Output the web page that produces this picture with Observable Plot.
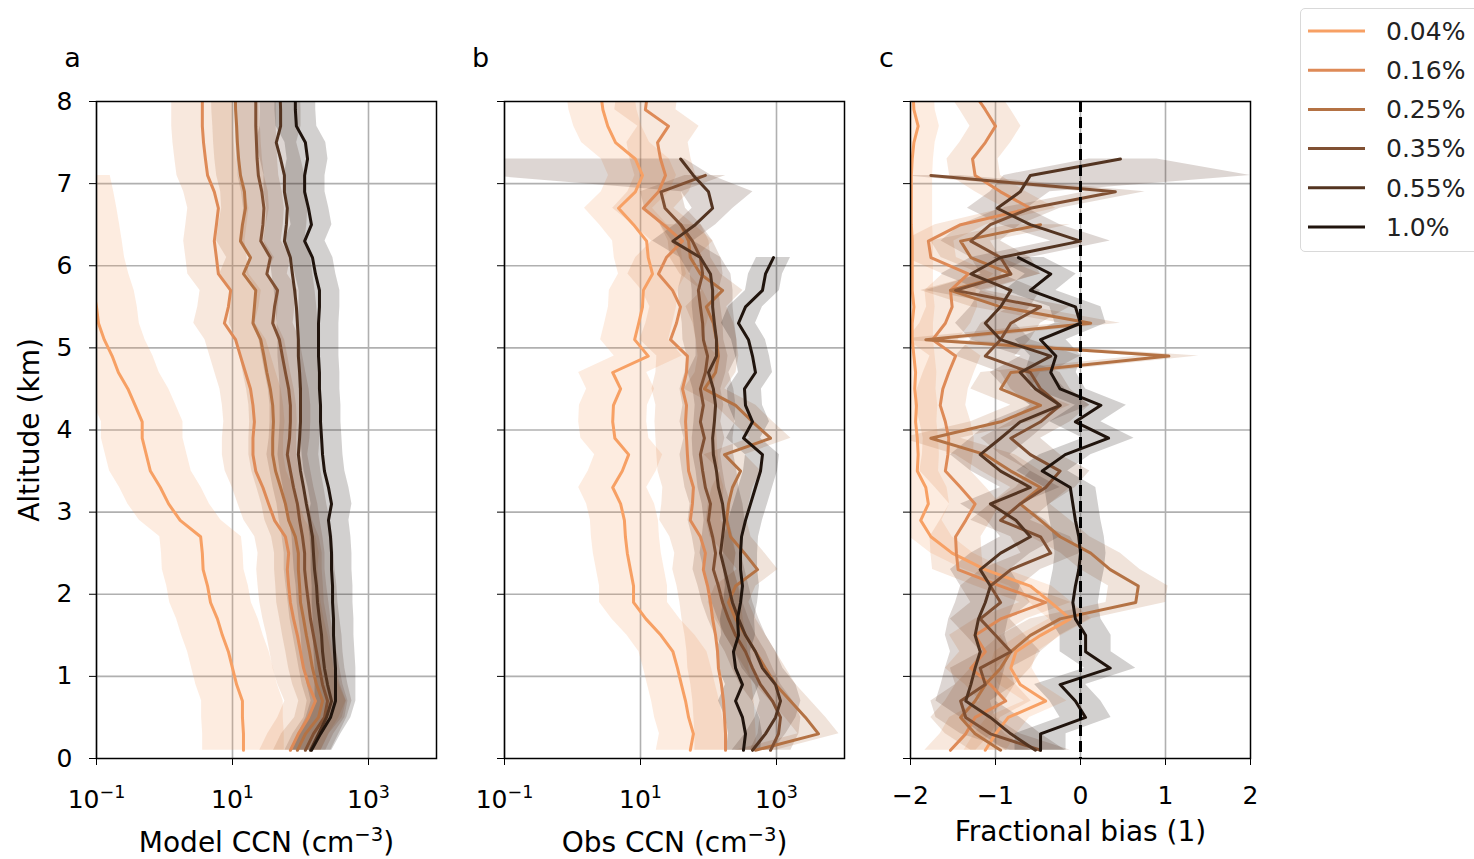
<!DOCTYPE html>
<html><head><meta charset="utf-8">
<script src="https://cdn.jsdelivr.net/npm/d3@7"></script>
<script src="https://cdn.jsdelivr.net/npm/@observablehq/plot@0.6"></script>
<style>
body{margin:0;background:#fff;font-family:"DejaVu Sans",sans-serif;}
#fig{position:relative;width:1474px;height:859px;overflow:hidden;background:#fff;}
.panel{position:absolute;top:0;}
#legend{position:absolute;left:1300px;top:8px;width:200px;height:242px;border:1.5px solid #d9d9d9;border-radius:5px;background:#fff;}
</style></head><body><div id="fig"></div>
<script>
// ---------- data ----------
const altitudes = [0.1,0.3,0.5,0.7,0.9,1.1,1.3,1.5,1.7,1.9,2.1,2.3,2.5,2.7,2.9,3.1,3.3,3.5,3.7,3.9,4.1,4.3,4.5,4.7,4.9,5.1,5.3,5.5,5.7,5.9,6.1,6.3,6.5,6.7,6.9,7.1,7.3,7.5,7.7,7.9,8.1];
const seriesNames = ["0.04%","0.16%","0.25%","0.35%","0.55%","1.0%"];
const seriesColors = ["#f7a064","#de8a57","#b47244","#805033","#533421","#20140d"];

// panel a: model CCN (cm-3)
const modelA_004 = [14.5,14.5,14,14,11.5,10,8.7,7.1,6,4.75,4.3,3.7,3.6,3.4,1.7,1.15,0.87,0.62,0.54,0.47,0.47,0.37,0.29,0.21,0.17,0.13,0.107,0.1,0.09,0.075,0.065,0.06,0.055,0.05,0.045,0.04,null,null,null,null,null];
const modelA_016 = [71,93,131,166,131,111,100,90,79,71,67,64,67,60,41.5,34,28,22,20,20,21,20,18.4,15.5,13.1,11.1,7.6,8.7,9.4,6.2,5.8,5.4,5.8,6.2,5.4,4.3,4.0,3.75,3.6,3.6,3.6];
const modelA_025 = [90,118,184,211,172,150,136,122,111,100,97,93,93,84,67,60,51,43,39,39,40,39,36,32,29,26,20,21,22,14.5,18.4,13.1,14,15.5,15,13.1,12.3,11.8,11.5,11.1,11];
const modelA_035 = [118,155,225,250,211,190,172,155,140,131,122,115,115,107,97,90,79,71,64,69,71,71,67,60,54,49,39,41.5,46,32,36,26,28,29,27,24,23,22.5,22,22,22];
const modelA_055 = [140,184,241,286,250,225,211,204,190,178,172,161,155,150,136,122,111,100,93,97,100,100,100,97,93,93,90,87,82,76,71,58,62,64,58,58,51,44,51,51,50];
const modelA_100 = [145,197,276,327,327,327,316,306,306,296,296,286,286,276,258,286,258,225,211,204,197,197,190,190,184,184,184,190,190,166,150,115,145,131,115,115,127,118,87,84,84];
const spreadA = [0.6,0.45,0.35,0.3,0.3,0.3]; // band half-width, decades

// panel b: observed CCN (cm-3)
const obsB_004 = [54,60,51,46,40,35,30,20,12,7.9,7.9,7.1,6.4,6.0,5.8,5.1,3.9,5.4,6.7,4.2,3.9,4.0,5.1,3.9,13,8.2,9.4,10.7,11,15,13,12.3,7.9,4.75,8.4,10.7,8.4,4.3,3.3,2.8,2.6];
const obsB_016 = [178,178,172,166,155,140,136,127,115,107,97,84,90,76,54,58,60,51,49,47.5,46,47.5,41.5,47.5,49,27.6,33.8,38.7,29.6,18.4,24,41.5,21.8,11,18.4,23.3,19.7,17.8,25.8,11.8,12.7];
const obsB_025 = [491,4150,2667,1607,967,689,491,350,250,197,250,526,338,211,184,197,225,296,172,817,444,250,87,127,140,131,118,93,161,76,54,51,39,null,null,null,null,null,null,null,null];
const obsB_035 = [817,1070,1145,873,582,444,350,250,197,161,140,118,127,115,100,107,90,82,76,87,76,84,76,90,97,84,82,76,71,82,76,58,39,23,20,90,null,null,null,null,null];
const obsB_055 = [444,689,967,1145,967,622,491,350,276,225,197,172,150,161,172,161,140,131,118,115,122,127,118,100,131,131,122,115,115,107,76,30,64,115,100,60,39,null,null,null,null];
const obsB_100 = [327,350,316,250,316,250,233,276,267,296,316,296,296,306,350,415,491,582,622,327,444,350,338,491,444,387,276,350,622,689,903,null,null,null,null,null,null,null,null,null,null];
const spreadB = [0.5,0.45,0.3,0.3,0.3,0.25];

// panel c: fractional bias (1)
const biasC_004 = [-1.12,-1.00,-0.85,-0.41,-0.71,-0.82,-0.76,-0.47,-0.12,-0.35,-0.59,-1.12,-1.51,-1.76,-1.88,-1.79,-1.82,-1.92,-1.91,-1.92,-1.94,-1.93,-1.95,-1.94,-1.96,-1.98,-1.98,-1.96,-1.98,-1.98,-1.98,-1.98,-1.99,-1.99,-1.99,-1.99,-1.98,-1.96,-1.91,-1.96,-1.97];
const biasC_016 = [-1.53,-1.35,-1.24,-0.88,-1.06,-1.29,-1.12,-1.24,-0.94,-0.41,-0.94,-1.44,-1.46,-1.47,-1.35,-1.24,-1.41,-1.59,-1.56,-1.55,-1.59,-1.65,-1.62,-1.55,-1.47,-1.74,-1.59,-1.51,-1.53,-1.32,-1.76,-1.79,-1.41,-0.59,-0.94,-1.24,-1.27,-1.12,-1.00,-1.12,-1.25];
const biasC_025 = [-0.94,-1.24,-1.41,-1.24,-1.12,-0.94,-0.82,-0.59,-0.24,0.65,0.68,0.35,0.12,-0.24,-0.47,-0.71,-0.47,-0.82,-1.12,-1.76,-0.94,-0.47,-0.94,-0.82,1.04,-1.82,0.12,-0.94,-1.53,-0.82,-1.29,-1.41,-0.47,null,null,null,null,null,null,null,null];
const biasC_035 = [-0.47,-1.06,-1.35,-1.41,-1.12,-1.18,-0.82,-1.00,-1.18,-0.94,-1.06,-0.82,-0.35,-0.47,-0.94,-0.71,-0.41,-0.24,-0.59,-0.82,-0.47,-0.24,-0.47,-0.59,-1.12,-0.94,-0.82,-0.47,-1.47,-0.82,-0.94,-1.29,-1.06,-0.59,0.41,-1.76,null,null,null,null,null];
const biasC_055 = [-0.53,-0.82,-1.06,-1.35,-1.29,-1.24,-1.18,-1.24,-1.20,-1.12,-1.06,-1.18,-0.94,-0.59,-0.76,-1.06,-0.59,-0.94,-1.18,-0.94,-0.71,-0.24,-0.53,-0.71,-0.35,-0.94,-1.12,-0.94,-0.82,-1.29,-0.94,0.00,-0.59,-0.98,-0.71,-0.59,0.47,null,null,null,null];
const biasC_100 = [-0.47,-0.47,0.06,-0.06,-0.24,0.35,0.06,0.06,-0.06,-0.09,-0.06,-0.02,0.00,-0.02,-0.06,-0.09,-0.12,-0.45,-0.18,0.33,-0.06,0.24,-0.24,-0.35,-0.29,-0.47,0.00,-0.06,-0.59,-0.35,-0.73,null,null,null,null,null,null,null,null,null,null];
const spreadC = [0.25,0.3,0.35,0.35,0.35,0.3];

// unusually wide bands
const bandFixes = [
  {panel:"b", series:"0.55%", alt:7.3, lo:0.05, hi:45},
  {panel:"b", series:"0.55%", alt:7.1, lo:0.05, hi:110},
  {panel:"b", series:"0.55%", alt:6.9, lo:40, hi:450},
  {panel:"c", series:"0.55%", alt:7.3, lo:0.1, hi:0.9},
  {panel:"c", series:"0.55%", alt:7.1, lo:-0.9, hi:2.0}
];

const altTicks = [0,1,2,3,4,5,6,7,8];
const altGrid = [1,2,3,4,5,6,7];
const logTicks = [0.1,10,1000];
const logTickLabels = ["10^{−1}","10^{1}","10^{3}"];
const biasTicks = [-2,-1,0,1,2];
const biasTickLabels = ["−2","−1","0","1","2"];
const biasGrid = [-1,0,1];
const zeroLine = [0];
const panelTitles = ["Model CCN (cm^{−3})","Obs CCN (cm^{−3})","Fractional bias (1)"];
const panelLetters = ["a","b","c"];

// ---------- build ----------
function buildRows(panel, arrays, spreads, isLog) {
  const out = [];
  arrays.forEach((arr, i) => {
    arr.forEach((v, j) => {
      if (v == null) return;
      const alt = altitudes[j];
      const fix = bandFixes.find(f => f.panel === panel && f.series === seriesNames[i] && f.alt === alt);
      const s = spreads[i];
      const lo = fix ? fix.lo : (isLog ? v / Math.pow(10, s) : v - s);
      const hi = fix ? fix.hi : (isLog ? v * Math.pow(10, s) : v + s);
      out.push({series: seriesNames[i], alt, v, lo, hi});
    });
  });
  return out;
}

const rowsA = buildRows("a", [modelA_004,modelA_016,modelA_025,modelA_035,modelA_055,modelA_100], spreadA, true);
const rowsB = buildRows("b", [obsB_004,obsB_016,obsB_025,obsB_035,obsB_055,obsB_100], spreadB, true);
const rowsC = buildRows("c", [biasC_004,biasC_016,biasC_025,biasC_035,biasC_055,biasC_100], spreadC, false);

const gridStyle = {stroke:"#b0b0b0", strokeOpacity:1, strokeWidth:1.6};

// turn "x^{y}z" into real superscript tspans; drop empty tick texts
function supify(svg) {
  const ns = "http://www.w3.org/2000/svg";
  svg.querySelectorAll("text").forEach(t => {
    const s = t.textContent;
    if (s === "") { t.remove(); return; }
    const m = s.match(/^(.*)\^\{([^}]*)\}(.*)$/);
    if (!m) return;
    while (t.firstChild) t.removeChild(t.firstChild);
    t.appendChild(document.createTextNode(m[1]));
    const sup = document.createElementNS(ns, "tspan");
    sup.setAttribute("font-size", "70%");
    sup.setAttribute("dy", "-0.6em");
    sup.textContent = m[2];
    t.appendChild(sup);
    if (m[3]) {
      const rest = document.createElementNS(ns, "tspan");
      rest.setAttribute("dy", "0.42em");
      rest.textContent = m[3];
      t.appendChild(rest);
    }
  });
}

function makePanel(o) {
  const marks = [
    Plot.ruleX(o.xGrid, gridStyle),
    Plot.ruleY(altGrid, gridStyle),
    Plot.areaX(o.rows, {y:"alt", x1:"lo", x2:"hi", fill:"series", z:"series", fillOpacity:0.2, clip:true}),
    Plot.line(o.rows, {x:"v", y:"alt", stroke:"series", z:"series", strokeWidth:3, clip:true})
  ];
  if (o.zero) marks.push(Plot.ruleX(zeroLine, {stroke:"#000", strokeWidth:3, strokeDasharray:"11,5"}));
  marks.push(
    Plot.frame({stroke:"#000", strokeWidth:1.5}),
    Plot.axisX({ticks:o.xTicks, tickFormat:d => o.xLabels[o.xTicks.indexOf(d)], tickSize:7, tickPadding:o.tickPad, label:null, fontSize:25}),
    Plot.axisY({ticks:altTicks, tickSize:7, tickPadding:17, tickFormat: o.yLabels ? (d => String(d)) : (() => ""), label:null, fontSize:25}),
    Plot.text([o.xTitle], {frameAnchor:"bottom", dy:o.titleDy, fontSize:28, lineAnchor:"middle", textAnchor:"middle"}),
    Plot.text([o.letter], {frameAnchor:"top-left", dx:-24, dy:-43, fontSize:27, lineAnchor:"middle", textAnchor:"middle"})
  );
  if (o.yLabels) marks.push(Plot.text(["Altitude (km)"], {frameAnchor:"left", dx:-66, rotate:-90, fontSize:28, lineAnchor:"middle", textAnchor:"middle"}));
  const svg = Plot.plot({
    width:o.width, height:859, marginTop:101, marginBottom:101, marginLeft:o.ml, marginRight:o.mr,
    x: o.xScale,
    y: {domain:[0,8]},
    color: {domain:seriesNames, range:seriesColors},
    style: {fontFamily:"DejaVu Sans", fontSize:"25px", color:"#000", background:"transparent", overflow:"visible"},
    marks
  });
  supify(svg);
  svg.classList.add("panel");
  svg.style.left = o.left + "px";
  return svg;
}

const fig = document.getElementById("fig");
fig.appendChild(makePanel({rows:rowsA, left:0, width:470, ml:96, mr:34, xScale:{type:"log", domain:[0.1,10000]}, xGrid:logTicks, xTicks:logTicks, xLabels:logTickLabels, tickPad:25, xTitle:panelTitles[0], titleDy:85, letter:panelLetters[0], yLabels:true}));
fig.appendChild(makePanel({rows:rowsB, left:470, width:400, ml:34, mr:26, xScale:{type:"log", domain:[0.1,10000]}, xGrid:logTicks, xTicks:logTicks, xLabels:logTickLabels, tickPad:25, xTitle:panelTitles[1], titleDy:85, letter:panelLetters[1], yLabels:false}));
fig.appendChild(makePanel({rows:rowsC, left:870, width:400, ml:40, mr:20, xScale:{type:"linear", domain:[-2,2]}, xGrid:biasGrid, xTicks:biasTicks, xLabels:biasTickLabels, tickPad:21, xTitle:panelTitles[2], titleDy:74, letter:panelLetters[2], yLabels:false, zero:true}));

// legend
const legend = document.createElement("div");
legend.id = "legend";
const ns = "http://www.w3.org/2000/svg";
const lsvg = document.createElementNS(ns, "svg");
lsvg.setAttribute("width", 200); lsvg.setAttribute("height", 242);
seriesNames.forEach((name, i) => {
  const y = 22 + i * 39.2;
  const ln = document.createElementNS(ns, "line");
  ln.setAttribute("x1", 7); ln.setAttribute("x2", 64); ln.setAttribute("y1", y); ln.setAttribute("y2", y);
  ln.setAttribute("stroke", seriesColors[i]); ln.setAttribute("stroke-width", 3);
  lsvg.appendChild(ln);
  const t = document.createElementNS(ns, "text");
  t.setAttribute("x", 85); t.setAttribute("y", y); t.setAttribute("dy", "0.35em");
  t.setAttribute("font-family", "DejaVu Sans"); t.setAttribute("font-size", 25); t.setAttribute("fill", "#222");
  t.textContent = name;
  lsvg.appendChild(t);
});
legend.appendChild(lsvg);
fig.appendChild(legend);
</script></body></html>
